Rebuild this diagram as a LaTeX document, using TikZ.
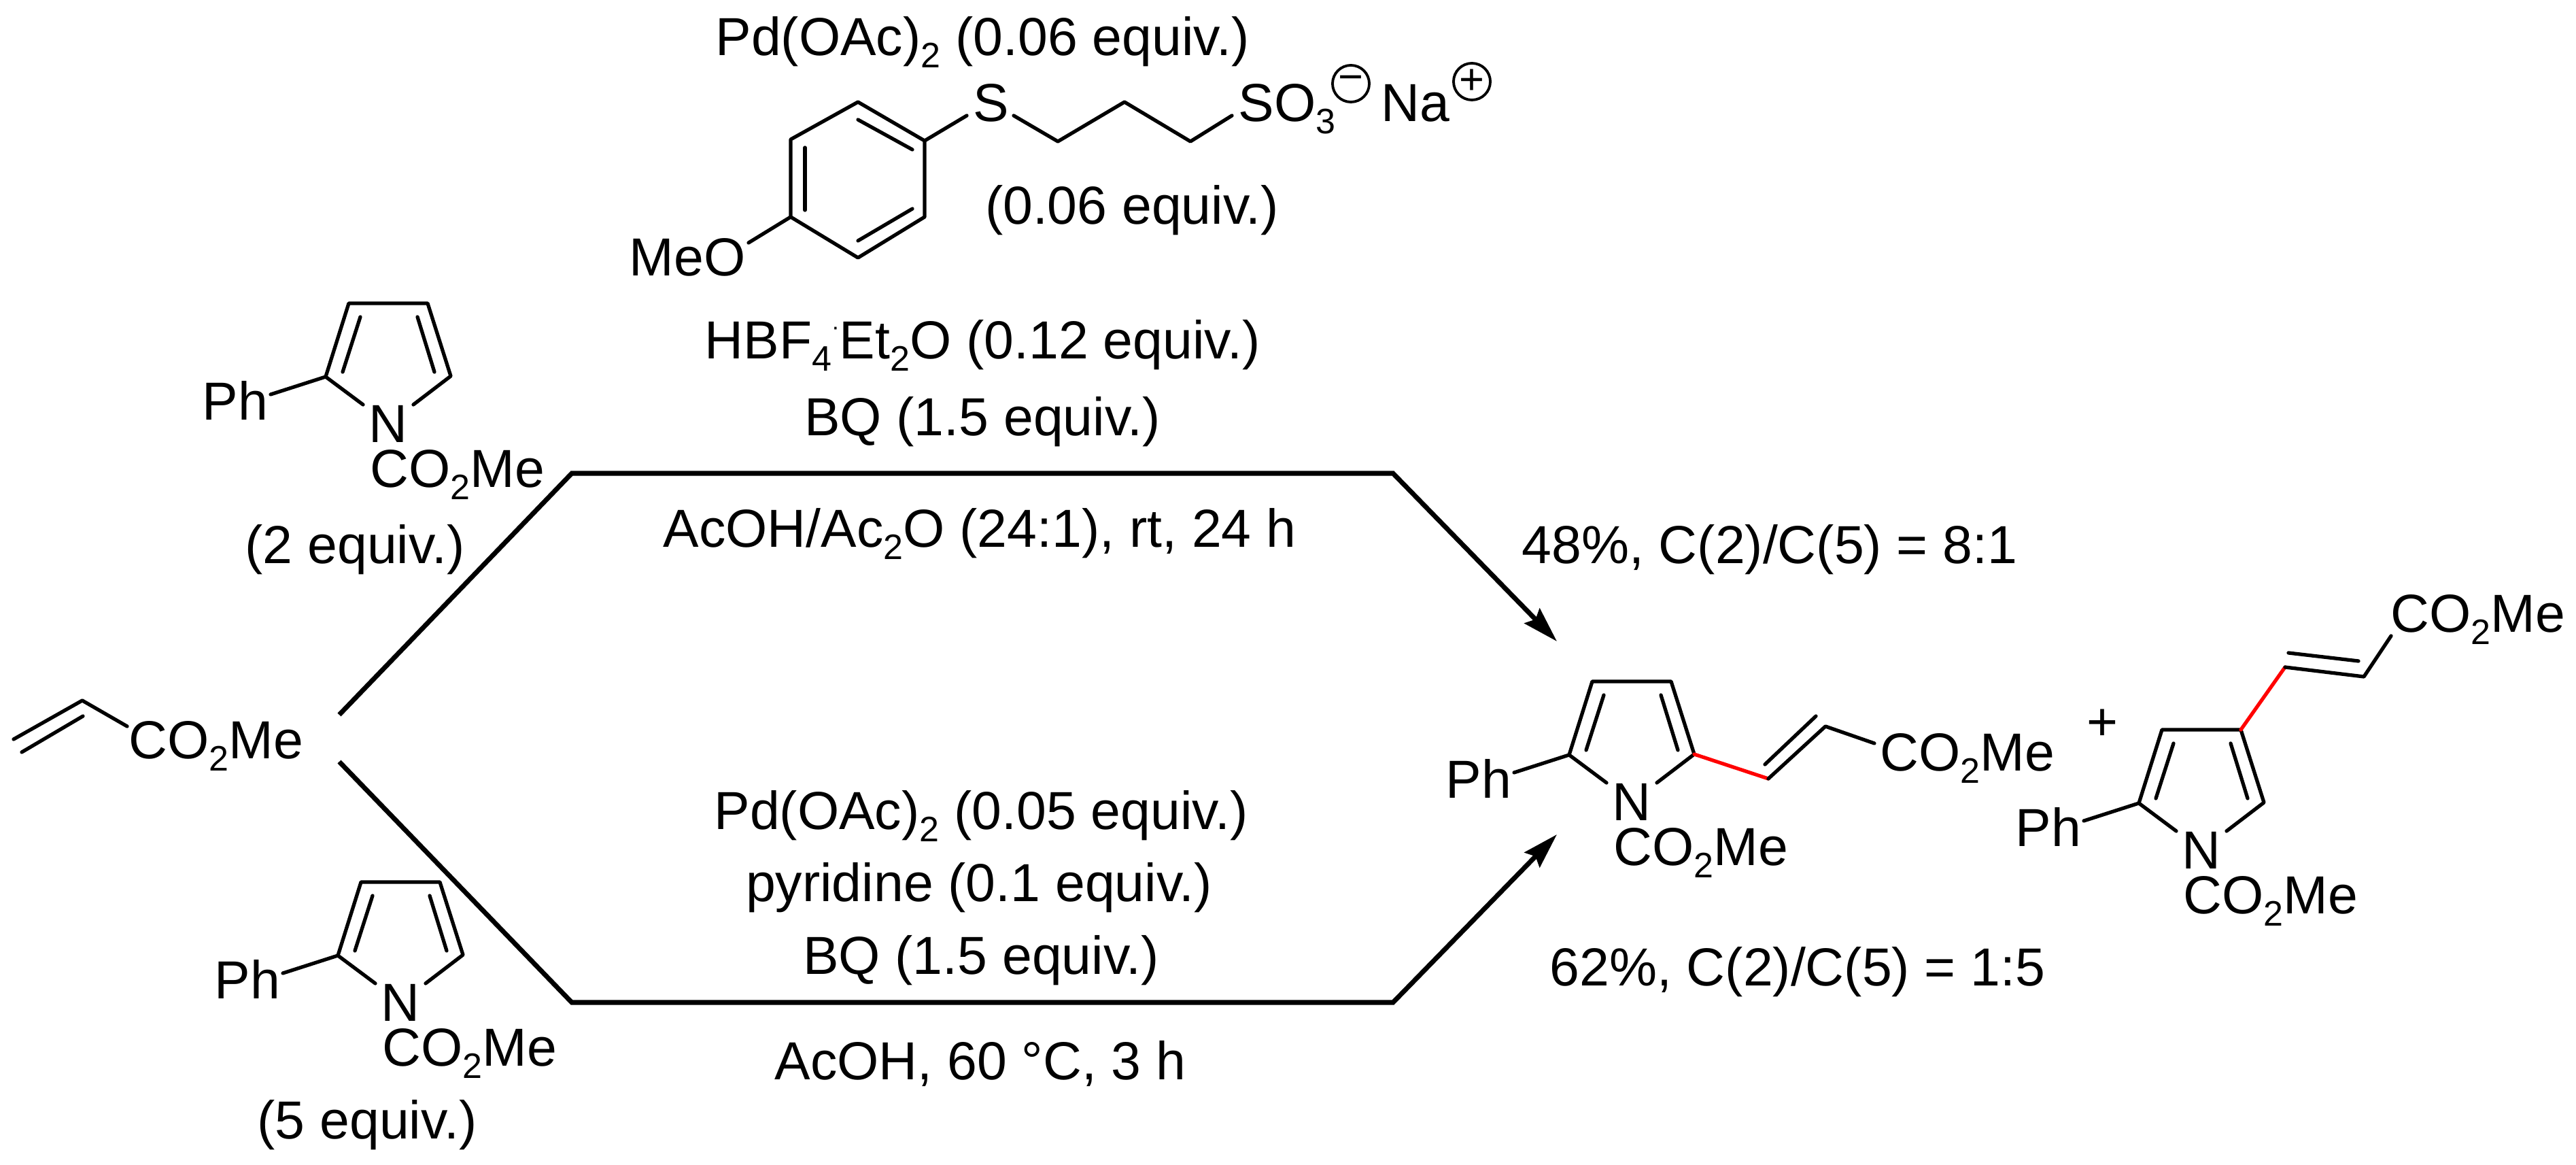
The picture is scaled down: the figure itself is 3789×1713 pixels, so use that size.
\documentclass[tikz,border=0pt]{standalone}
\usepackage{fontspec}
\setmainfont{Liberation Sans}
\usetikzlibrary{arrows.meta}
\begin{document}
\begin{tikzpicture}[x=0.01cm,y=-0.01cm]
	\tikzstyle{fleche}=[->,>={Stealth[length=0.52cm,width=0.31cm,inset=0.07cm]},line width=2pt,line join=miter]
	\tikzstyle{liaison}=[line width=1.5pt,line cap=round,line join=round]
	\tikzstyle{rouge}=[liaison,red]
	\tikzstyle{etiquette}=[inner sep=0pt,anchor=base,font=\fontsize{22.4}{24}\selectfont]
	\tikzstyle{groupe}=[etiquette,anchor=base west]
	\tikzstyle{charge}=[circle,draw,line width=1.1pt,inner sep=0pt,minimum size=0.54cm,font=\fontsize{18}{18}\selectfont]
	\def\Sb#1{\raisebox{-0.22em}{\fontsize{14.8}{15}\selectfont #1}}
	\def\Ester{CO\Sb{2}Me}
	\def\Pyrrole#1#2#3{
		\begin{scope}[shift={(#2,#3)}]
			\coordinate (#1a) at (479,554);
			\coordinate (#1b) at (513,446);
			\coordinate (#1c) at (629,446);
			\coordinate (#1d) at (663,553);
			\coordinate (#1e) at (534,595);
			\coordinate (#1f) at (608,595);
			\coordinate (#1g) at (398,580);
			\coordinate (#1h) at (530,466);
			\coordinate (#1i) at (504,547);
			\coordinate (#1j) at (614,466);
			\coordinate (#1k) at (639,547);
			\node[etiquette] (#1N) at (571,651) {N};
			\node[groupe] (#1Ph) at (297,618) {Ph};
			\node[groupe] (#1E) at (544,717) {\Ester};
		\end{scope}
		\draw[liaison] (#1e)--(#1a)--(#1b)--(#1c)--(#1d)--(#1f);
		\draw[liaison] (#1a)--(#1g);
		\draw[liaison] (#1h)--(#1i);
		\draw[liaison] (#1j)--(#1k);
	}
	\useasboundingbox (0,0) rectangle (3789,1713);
	\Pyrrole{Pa}{0}{0}
	\Pyrrole{Pb}{18}{851}
	\Pyrrole{Pc}{1829}{556}
	\Pyrrole{Pd}{2667}{627}
	\node[etiquette] (Ea) at (522,829) {(2 equiv.)};
	\node[etiquette] (Eb) at (540,1675) {(5 equiv.)};
	\coordinate (Aa) at (20,1087);
	\coordinate (Ab) at (121,1030);
	\coordinate (Ac) at (187,1068);
	\coordinate (Ad) at (32,1106);
	\coordinate (Ae) at (122,1053);
	\node[groupe] (Af) at (189,1116) {\Ester};
	\draw[liaison] (Aa)--(Ab)--(Ac);
	\draw[liaison] (Ad)--(Ae);
	\coordinate (Ha) at (499,1051);
	\coordinate (Hb) at (841,696);
	\coordinate (Hc) at (2049,696);
	\coordinate (Hd) at (2290,943);
	\coordinate (Ba) at (499,1120);
	\coordinate (Bb) at (841,1474);
	\coordinate (Bc) at (2049,1474);
	\coordinate (Bd) at (2290,1227);
	\draw[fleche] (Ha)--(Hb)--(Hc)--(Hd);
	\draw[fleche] (Ba)--(Bb)--(Bc)--(Bd);
	\node[etiquette] (Ta) at (1445,82) {Pd(OAc)\Sb{2} (0.06 equiv.)};
	\coordinate (Ra) at (1262,150);
	\coordinate (Rb) at (1360,207);
	\coordinate (Rc) at (1360,319);
	\coordinate (Rd) at (1262,379);
	\coordinate (Re) at (1163,319);
	\coordinate (Rf) at (1163,205);
	\coordinate (Rg) at (1262,176);
	\coordinate (Rh) at (1342,220);
	\coordinate (Ri) at (1342,307);
	\coordinate (Rj) at (1262,354);
	\coordinate (Rk) at (1184,309);
	\coordinate (Rl) at (1184,217);
	\draw[liaison] (Ra)--(Rb)--(Rc)--(Rd)--(Re)--(Rf)--cycle;
	\draw[liaison] (Rg)--(Rh);
	\draw[liaison] (Ri)--(Rj);
	\draw[liaison] (Rk)--(Rl);
	\coordinate (Sa) at (1422,170);
	\coordinate (Sb) at (1491,170);
	\coordinate (Sc) at (1556,208);
	\coordinate (Sd) at (1654,150);
	\coordinate (Se) at (1751,208);
	\coordinate (Sf) at (1812,170);
	\coordinate (Og) at (1101,357);
	\node[etiquette] (S) at (1458,179) {S};
	\node[groupe] (Sg) at (1821,179) {SO\Sb{3}};
	\node[groupe] (Na) at (2031,179) {Na};
	\node[charge] (Qm) at (1987,123) {−};
	\node[charge] (Qp) at (2165,120) {+};
	\node[groupe] (Me) at (925,406) {MeO};
	\draw[liaison] (Rb)--(Sa);
	\draw[liaison] (Sb)--(Sc)--(Sd)--(Se)--(Sf);
	\draw[liaison] (Re)--(Og);
	\node[etiquette] (Tb) at (1665,330) {(0.06 equiv.)};
	\node[etiquette] (Tc) at (1445,528) {HBF\Sb{4}\raisebox{0.45em}{\fontsize{10}{10}\selectfont ·}Et\Sb{2}O (0.12 equiv.)};
	\node[etiquette] (Td) at (1445,641) {BQ (1.5 equiv.)};
	\node[etiquette] (Te) at (1441,805) {AcOH/Ac\Sb{2}O (24:1), rt, 24 h};
	\node[etiquette] (Tf) at (2603,829) {48\%, C(2)/C(5) = 8:1};
	\node[etiquette] (Tg) at (1443,1220) {Pd(OAc)\Sb{2} (0.05 equiv.)};
	\node[etiquette] (Th) at (1440,1326) {pyridine (0.1 equiv.)};
	\node[etiquette] (Ti) at (1443,1433) {BQ (1.5 equiv.)};
	\node[etiquette] (Tj) at (1442,1587) {AcOH, 60 °C, 3 h};
	\node[etiquette] (Tk) at (2644,1450) {62\%, C(2)/C(5) = 1:5};
	\coordinate (Ca) at (2601,1145);
	\coordinate (Cb) at (2685,1068);
	\coordinate (Cc) at (2757,1093);
	\coordinate (Cd) at (2596,1124);
	\coordinate (Ce) at (2671,1053);
	\node[groupe] (Cf) at (2765,1134) {\Ester};
	\draw[rouge] (Pcd)--(Ca);
	\draw[liaison] (Ca)--(Cb)--(Cc);
	\draw[liaison] (Cd)--(Ce);
	\coordinate (Da) at (3361,981);
	\coordinate (Db) at (3477,995);
	\coordinate (Dc) at (3517,935);
	\coordinate (Dd) at (3366,960);
	\coordinate (De) at (3469,972);
	\node[groupe] (Df) at (3516,930) {\Ester};
	\draw[rouge] (Pdc)--(Da);
	\draw[liaison] (Da)--(Db)--(Dc);
	\draw[liaison] (Dd)--(De);
	\node[etiquette] (Plus) at (3092,1089) {+};
\end{tikzpicture}
\end{document}
